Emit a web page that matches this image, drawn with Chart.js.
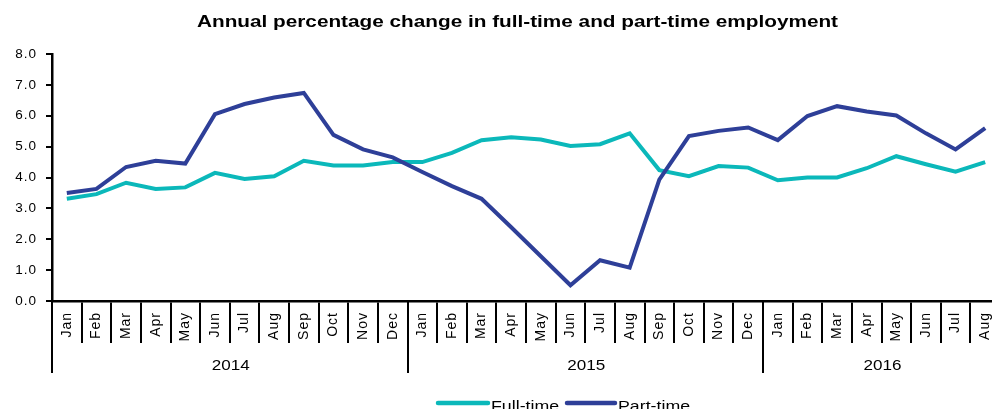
<!DOCTYPE html>
<html>
<head>
<meta charset="utf-8">
<script src="https://cdn.jsdelivr.net/npm/chart.js@4.4.1/dist/chart.umd.min.js"></script>
<style>
  html, body { margin: 0; padding: 0; background: #fff; overflow: hidden; }
  #wrap { position: relative; width: 1000px; height: 409px; }
</style>
</head>
<body>
<div id="wrap"><canvas id="c"></canvas></div>
<script>
// ---- data ----
const chartTitle = 'Annual percentage change in full-time and part-time employment';
const categories = [
  'Jan','Feb','Mar','Apr','May','Jun','Jul','Aug','Sep','Oct','Nov','Dec',
  'Jan','Feb','Mar','Apr','May','Jun','Jul','Aug','Sep','Oct','Nov','Dec',
  'Jan','Feb','Mar','Apr','May','Jun','Jul','Aug'
];
const years = ['2014', '2015', '2016'];
const monthsPerYear = [12, 12, 8];
const fullTime = [
  3.31, 3.46, 3.83, 3.63, 3.68, 4.15, 3.95, 4.04, 4.54, 4.39, 4.39, 4.50,
  4.50, 4.80, 5.21, 5.30, 5.23, 5.02, 5.08, 5.43, 4.24, 4.04, 4.37, 4.32,
  3.91, 4.00, 4.00, 4.30, 4.69, 4.43, 4.19, 4.50
];
const partTime = [
  3.50, 3.63, 4.34, 4.54, 4.45, 6.05, 6.38, 6.59, 6.74, 5.38, 4.91, 4.65,
  4.18, 3.72, 3.31, 2.39, 1.45, 0.51, 1.32, 1.08, 3.93, 5.34, 5.51, 5.62,
  5.21, 5.99, 6.31, 6.14, 6.01, 5.43, 4.91, 5.60
];
const yTicks = [0, 1, 2, 3, 4, 5, 6, 7, 8];
const seriesNames = ['Full-time', 'Part-time'];
const seriesColors = ['#0BB8BA', '#2E3F98'];

const FONT = "'Liberation Sans', Arial, Helvetica, sans-serif";
Chart.defaults.font.family = FONT;
Chart.defaults.color = '#000';

function stretchedText(ctx, text, x, y, align, sx) {
  ctx.save();
  ctx.translate(x, y);
  ctx.scale(sx, 1);
  ctx.textAlign = align;
  ctx.fillText(text, 0, 0);
  ctx.restore();
}

const decor = {
  id: 'decor',
  beforeDraw(chart) {
    chart.ctx.letterSpacing = '1px';
  },
  afterDraw(chart) {
    const ctx = chart.ctx;
    const x = chart.scales.x;
    const area = chart.chartArea;
    ctx.save();
    ctx.letterSpacing = '0px';
    // year separators and labels
    const half = (x.getPixelForValue(1) - x.getPixelForValue(0)) / 2;
    let start = 0;
    ctx.strokeStyle = '#000';
    ctx.lineWidth = 2;
    ctx.fillStyle = '#000';
    ctx.font = '14px ' + FONT;
    ctx.textBaseline = 'alphabetic';
    for (let i = 0; i < years.length; i++) {
      const x0 = x.getPixelForValue(start) - half;
      const x1 = x.getPixelForValue(start + monthsPerYear[i] - 1) + half;
      ctx.beginPath();
      ctx.moveTo(Math.round(x0), area.bottom);
      ctx.lineTo(Math.round(x0), area.bottom + 72);
      ctx.stroke();
      stretchedText(ctx, years[i], (x0 + x1) / 2 + 1, 370, 'center', 1.22);
      start += monthsPerYear[i];
    }
    // title
    ctx.font = 'bold 16px ' + FONT;
    const w = ctx.measureText(chartTitle).width;
    stretchedText(ctx, chartTitle, 197, 27, 'left', 641 / w);
    // legend
    const items = [
      { x0: 438, x1: 488, tx: 491 },
      { x0: 567, x1: 615, tx: 618 }
    ];
    ctx.font = '14px ' + FONT;
    items.forEach((it, i) => {
      const ds = chart.data.datasets[i];
      ctx.strokeStyle = ds.borderColor;
      ctx.lineWidth = 4.5;
      ctx.lineCap = 'round';
      ctx.beginPath();
      ctx.moveTo(it.x0, 403);
      ctx.lineTo(it.x1, 403);
      ctx.stroke();
      ctx.fillStyle = '#000';
      stretchedText(ctx, ds.label, it.tx, 411, 'left', 1.27);
    });
    ctx.restore();
  }
};

new Chart(document.getElementById('c'), {
  type: 'line',
  data: {
    labels: categories,
    datasets: [
      { label: seriesNames[0], data: fullTime, borderColor: seriesColors[0], backgroundColor: seriesColors[0],
        borderWidth: 4, pointRadius: 0, tension: 0, order: 1 },
      { label: seriesNames[1], data: partTime, borderColor: seriesColors[1], backgroundColor: seriesColors[1],
        borderWidth: 4, pointRadius: 0, tension: 0, order: 0 }
    ]
  },
  options: {
    responsive: true,
    maintainAspectRatio: false,
    animation: false,
    events: [],
    layout: { padding: { left: 0, right: 0, top: 54, bottom: 68 } },
    plugins: {
      legend: { display: false },
      title: { display: false },
      tooltip: { enabled: false }
    },
    scales: {
      x: {
        type: 'category',
        offset: true,
        afterFit(s) { s.height = 40; },
        grid: { display: true, drawOnChartArea: false, drawTicks: true, tickLength: 42,
                color: '#000', lineWidth: 2, offset: true },
        border: { display: true, color: '#000', width: 2.5 },
        ticks: { autoSkip: false, minRotation: 90, maxRotation: 90, padding: -31,
                 font: { size: 14, family: FONT }, color: '#000' }
      },
      y: {
        min: 0, max: 8,
        afterFit(s) { s.width = 52; },
        afterBuildTicks(s) { s.ticks = yTicks.map(v => ({ value: v })); },
        grid: { display: true, drawOnChartArea: false, drawTicks: true, tickLength: 6,
                color: '#000', lineWidth: 2 },
        border: { display: true, color: '#000', width: 2.5 },
        ticks: { padding: 9, font: { size: 13.5, family: FONT }, color: '#000',
                 callback: v => Number(v).toFixed(1) }
      }
    }
  },
  plugins: [decor]
});
</script>
</body>
</html>
